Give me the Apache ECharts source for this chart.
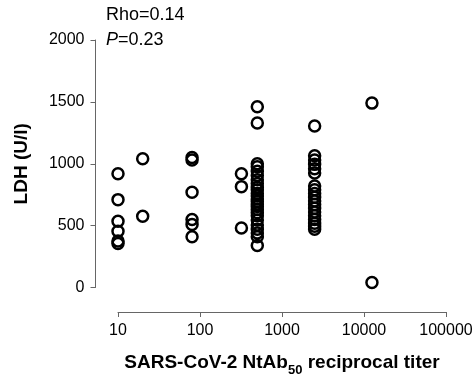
<!DOCTYPE html>
<html><head><meta charset="utf-8">
<script src="https://cdn.jsdelivr.net/npm/echarts@6/dist/echarts.min.js"></script>
<style>html,body{margin:0;padding:0;background:#fff}#c{width:476px;height:382px}</style>
</head><body><div id="c"></div>
<script>
const titers = [10, 20, 80, 320, 500, 2500, 12500];
const ldhAt10 = [920, 710, 535, 455, 375, 355];
const ldhAt20 = [1040, 575];
const ldhAt80 = [1050, 1030, 770, 550, 510, 410];
const ldhAt320 = [920, 815, 480];
const ldhAt500 = [1460, 1330, 1000, 975, 940, 905, 870, 840, 810, 790, 760, 740, 715, 695, 675, 655, 630, 605, 580, 545, 505, 470, 440, 410, 340];
const ldhAt2500 = [1305, 1065, 1030, 995, 960, 925, 820, 790, 760, 730, 700, 670, 640, 610, 580, 550, 520, 495, 470];
const ldhAt12500 = [1490, 40];
const yTicks = [0, 500, 1000, 1500, 2000];
const xTicks = [10, 100, 1000, 10000, 100000];
const groups = [ldhAt10, ldhAt20, ldhAt80, ldhAt320, ldhAt500, ldhAt2500, ldhAt12500];
const pts = [];
groups.forEach((g, i) => g.forEach(v => pts.push([titers[i], v])));

const chart = echarts.init(document.getElementById('c'));
const font = 'Liberation Sans, Arial, sans-serif';
const lineCol = '#666';
chart.setOption({
  animation: false,
  grid: {left: 118, right: 30, top: 40, bottom: 92},
  xAxis: {
    type: 'log', logBase: 10, min: xTicks[0], max: xTicks[xTicks.length - 1],
    position: 'bottom',
    offset: 24.5,
    axisLine: {show: true, onZero: false, lineStyle: {color: lineCol, width: 1}},
    axisTick: {show: true, length: 5, lineStyle: {color: lineCol, width: 1}},
    splitLine: {show: false}, minorTick: {show: false},
    axisLabel: {color: '#000', fontSize: 16, fontFamily: font, margin: 11, formatter: v => String(v)},
    name: '{b|SARS-CoV-2 NtAb}{s|50}{b| reciprocal titer}',
    nameLocation: 'middle', nameGap: 38,
    nameTextStyle: {
      fontFamily: font,
      rich: {
        b: {fontSize: 19, fontWeight: 'bold', color: '#000', fontFamily: font, verticalAlign: 'bottom', lineHeight: 22},
        s: {fontSize: 13, fontWeight: 'bold', color: '#000', fontFamily: font, verticalAlign: 'bottom', lineHeight: 14, padding: [0, 0, -5, 0]}
      }
    }
  },
  yAxis: {
    type: 'value', min: yTicks[0], max: yTicks[yTicks.length - 1], interval: 500,
    offset: 22.5,
    axisLine: {show: true, onZero: false, lineStyle: {color: lineCol, width: 1}},
    axisTick: {show: true, length: 5, lineStyle: {color: lineCol}},
    splitLine: {show: false},
    axisLabel: {color: '#000', fontSize: 16, fontFamily: font, margin: 11, formatter: v => String(v)},
    name: 'LDH (U/l)', nameLocation: 'middle', nameGap: 64,
    nameTextStyle: {fontSize: 19, fontWeight: 'bold', color: '#000', fontFamily: font}
  },
  graphic: [
    {type: 'text', left: 106, top: 6, style: {text: 'Rho=0.14', fontSize: 18, fontFamily: font, fill: '#000'}},
    {type: 'text', left: 106, top: 31, style: {text: '{i|P}=0.23', fontSize: 18, fontFamily: font, fill: '#000',
      rich: {i: {fontStyle: 'italic', fontSize: 18, fontFamily: font, fill: '#000'}}}}
  ],
  series: [{
    type: 'scatter', data: pts, symbol: 'circle', symbolSize: 11,
    itemStyle: {color: 'rgba(0,0,0,0)', borderColor: '#000', borderWidth: 2.5, opacity: 1},
    emphasis: {disabled: true}
  }]
});
</script></body></html>
